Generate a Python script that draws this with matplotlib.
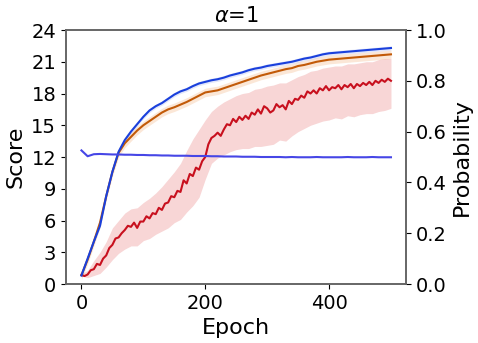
import numpy as np
import matplotlib
matplotlib.use('Agg')
import matplotlib.pyplot as plt

# 에폭 (10 간격)
epoch = list(range(0, 501, 10))
# 빨간 곡선용 에폭 (5 간격)
epoch5 = list(range(0, 501, 5))

# 파란 점수 곡선
score_blue = [0.8, 2.4, 4.0, 5.5, 8.3, 10.6, 12.5, 13.6, 14.4, 15.1,
              15.8, 16.4, 16.8, 17.1, 17.5, 17.9, 18.2, 18.4, 18.7, 18.95,
              19.1, 19.25, 19.35, 19.5, 19.7, 19.85, 20.0, 20.2, 20.35, 20.45,
              20.6, 20.7, 20.8, 20.9, 21.0, 21.15, 21.3, 21.4, 21.55, 21.7,
              21.8, 21.85, 21.9, 21.95, 22.0, 22.05, 22.1, 22.15, 22.2, 22.25, 22.3]

# 주황 점수 곡선
score_orange = [0.85, 2.3, 4.0, 5.8, 8.3, 10.6, 12.4, 13.3, 13.9, 14.5,
                15.0, 15.4, 15.8, 16.2, 16.5, 16.7, 16.95, 17.2, 17.5, 17.8,
                18.1, 18.2, 18.3, 18.5, 18.7, 18.9, 19.1, 19.3, 19.5, 19.7,
                19.85, 20.0, 20.15, 20.3, 20.4, 20.6, 20.7, 20.85, 21.0, 21.1,
                21.2, 21.25, 21.3, 21.35, 21.4, 21.45, 21.5, 21.55, 21.6, 21.65, 21.7]

# 빨간 점수 곡선 (5 간격)
score_red = [0.85, 0.75, 0.9, 1.3, 1.4, 1.9, 1.8, 2.4, 2.7, 3.4,
             3.7, 4.3, 4.4, 4.8, 5.1, 5.5, 5.4, 5.8, 5.3, 5.9,
             5.9, 6.4, 6.2, 6.7, 6.6, 7.2, 7.0, 7.6, 7.7, 8.3,
             8.2, 8.8, 8.7, 9.8, 9.5, 10.4, 10.2, 11.0, 10.8, 11.6,
             12.0, 13.2, 13.8, 14.0, 14.3, 14.0, 14.6, 15.1, 15.0, 15.6,
             15.3, 15.8, 15.5, 15.9, 15.6, 16.2, 16.0, 16.5, 16.1, 16.8,
             16.6, 16.2, 16.4, 17.0, 16.7, 16.9, 16.5, 17.3, 17.0, 17.5,
             17.4, 17.8, 17.6, 18.2, 18.0, 18.3, 18.0, 18.5, 18.3, 18.7,
             18.3, 18.6, 18.5, 18.8, 18.4, 18.8, 18.6, 18.9, 18.5, 18.9,
             18.7, 19.0, 18.8, 19.1, 18.8, 19.2, 19.0, 19.3, 19.1, 19.4, 19.2]

# 빨간 범위 (10 간격)
red_hi = [0.95, 1.3, 2.2, 3.0, 4.0, 5.3, 6.0, 6.7, 7.1, 7.2,
          7.7, 8.1, 8.6, 9.2, 9.9, 10.6, 11.4, 12.6, 13.7, 14.6,
          15.5, 16.3, 16.8, 17.2, 17.5, 17.8, 18.0, 18.1, 18.4, 18.5,
          18.7, 18.8, 19.0, 19.0, 19.3, 19.6, 19.8, 20.1, 20.2, 20.4,
          20.5, 20.6, 20.6, 20.8, 20.8, 20.9, 21.0, 21.0, 21.2, 21.3, 21.3]
red_lo = [0.75, 0.6, 0.8, 1.0, 1.6, 2.3, 2.9, 3.3, 3.6, 3.6,
          4.1, 4.3, 4.7, 5.0, 5.3, 5.8, 6.1, 6.8, 7.4, 8.2,
          9.9, 11.4, 11.9, 12.2, 12.5, 12.7, 12.8, 12.8, 13.0, 13.0,
          13.1, 13.2, 13.6, 13.5, 14.0, 14.4, 14.7, 15.0, 15.2, 15.4,
          15.5, 15.7, 15.6, 15.9, 15.8, 16.0, 16.1, 16.1, 16.3, 16.4, 16.6]

# 확률 (오른쪽 축)
prob = [0.526, 0.503, 0.511, 0.512, 0.511, 0.510, 0.510, 0.509, 0.509, 0.508,
        0.508, 0.507, 0.507, 0.506, 0.506, 0.505, 0.505, 0.505, 0.504, 0.504,
        0.504, 0.503, 0.503, 0.502, 0.502, 0.502, 0.501, 0.501, 0.501, 0.500,
        0.500, 0.500, 0.500, 0.499, 0.500, 0.499, 0.499, 0.499, 0.500, 0.499,
        0.499, 0.499, 0.499, 0.500, 0.499, 0.499, 0.499, 0.500, 0.499, 0.499, 0.499]

score_ticks = [0, 3, 6, 9, 12, 15, 18, 21, 24]
prob_ticks = [0.0, 0.2, 0.4, 0.6, 0.8, 1.0]

fig = plt.figure(figsize=(4.78, 3.43), dpi=100)
ax = fig.add_axes([0.138, 0.172, 0.711, 0.7405])

c_blue = '#1a40dc'
c_orange = '#c25a08'
c_red = '#c8101e'
c_prob = '#4646e6'

ax.fill_between(epoch, np.array(score_blue) - 0.2, np.array(score_blue) + 0.2,
                color=c_blue, alpha=0.12, lw=0)
ax.fill_between(epoch, np.array(score_orange) - 0.4, np.array(score_orange) + 0.4,
                color='#f0a060', alpha=0.25, lw=0)
ax.fill_between(epoch, red_lo, red_hi, color='#e87878', alpha=0.3, lw=0)
ax.plot(epoch5, score_red, color=c_red, lw=1.5)
ax.plot(epoch, score_orange, color=c_orange, lw=1.5)
ax.plot(epoch, score_blue, color=c_blue, lw=1.5)

ax.set_xlim(-25, 524)
ax.set_ylim(0, 24)
ax.set_yticks(score_ticks)
ax.set_xticks([0, 200, 400])
ax.tick_params(labelsize=14)
ax.set_xlabel('Epoch', fontsize=16)
ax.set_ylabel('Score', fontsize=16)
ax.set_title(r'$\alpha$=1', fontsize=15)

ax2 = ax.twinx()
ax2.plot(epoch, prob, color=c_prob, lw=1.5)
ax2.set_ylim(0, 1)
ax2.set_yticks(prob_ticks)
ax2.tick_params(labelsize=14)
ax2.set_ylabel('Probability', fontsize=16)

for a in (ax, ax2):
    for s in a.spines.values():
        s.set_color('0.4')
        s.set_linewidth(1.2)

fig.savefig('out.png', dpi=100)
